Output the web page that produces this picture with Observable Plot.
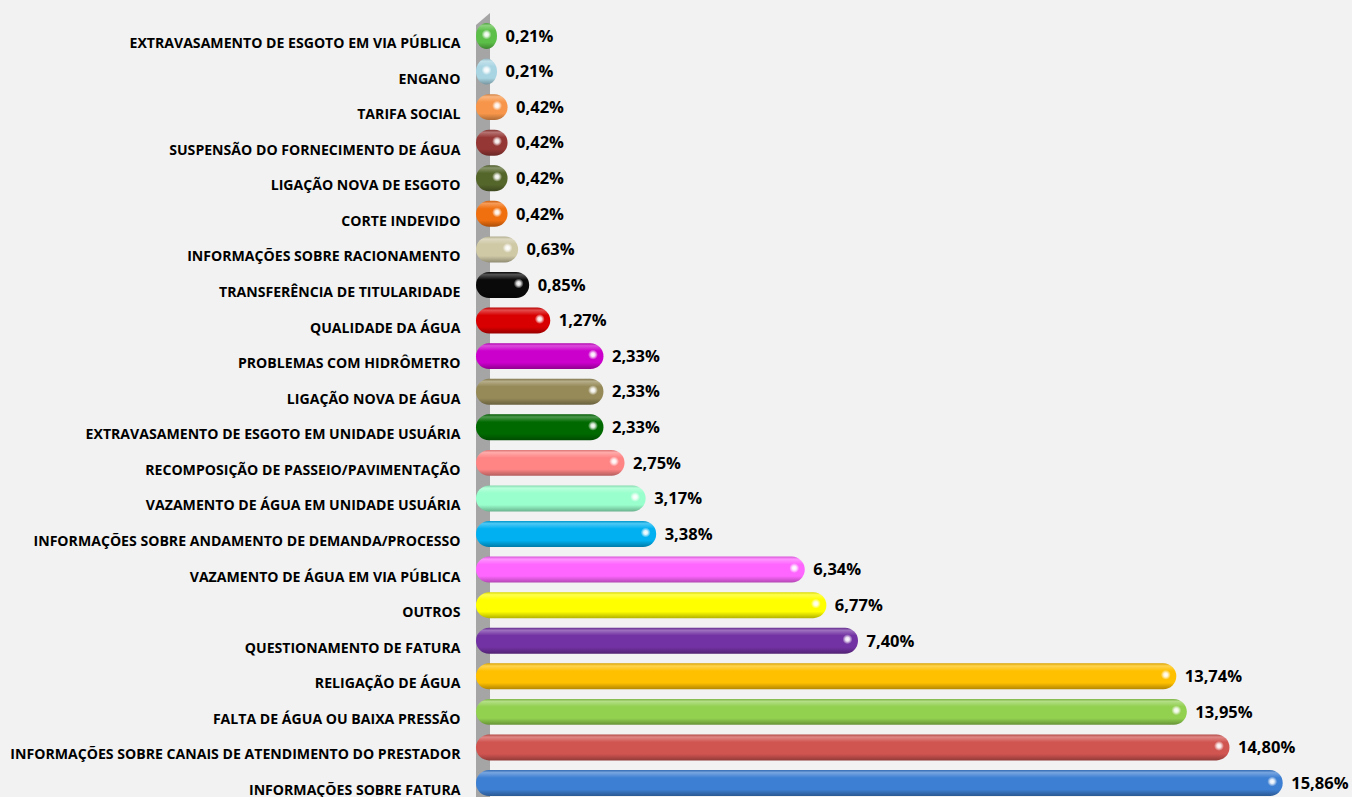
<!DOCTYPE html>
<html>
<head>
<meta charset="utf-8">
<script src="https://cdn.jsdelivr.net/npm/d3@7"></script>
<script src="https://cdn.jsdelivr.net/npm/@observablehq/plot@0.6"></script>
<style>
  html, body { margin: 0; padding: 0; background: #f2f2f2; }
  #chart svg { display: block; }
</style>
</head>
<body>
<div id="chart"></div>
<script>
const categories = [
  "EXTRAVASAMENTO DE ESGOTO EM VIA PÚBLICA",
  "ENGANO",
  "TARIFA SOCIAL",
  "SUSPENSÃO DO FORNECIMENTO DE ÁGUA",
  "LIGAÇÃO NOVA DE ESGOTO",
  "CORTE INDEVIDO",
  "INFORMAÇÕES SOBRE RACIONAMENTO",
  "TRANSFERÊNCIA DE TITULARIDADE",
  "QUALIDADE DA ÁGUA",
  "PROBLEMAS COM HIDRÔMETRO",
  "LIGAÇÃO NOVA DE ÁGUA",
  "EXTRAVASAMENTO DE ESGOTO EM UNIDADE USUÁRIA",
  "RECOMPOSIÇÃO DE PASSEIO/PAVIMENTAÇÃO",
  "VAZAMENTO DE ÁGUA EM UNIDADE USUÁRIA",
  "INFORMAÇÕES SOBRE ANDAMENTO DE DEMANDA/PROCESSO",
  "VAZAMENTO DE ÁGUA EM VIA PÚBLICA",
  "OUTROS",
  "QUESTIONAMENTO DE FATURA",
  "RELIGAÇÃO DE ÁGUA",
  "FALTA DE ÁGUA OU BAIXA PRESSÃO",
  "INFORMAÇÕES SOBRE CANAIS DE ATENDIMENTO DO PRESTADOR",
  "INFORMAÇÕES SOBRE FATURA"
];
const values = [0.21, 0.21, 0.42, 0.42, 0.42, 0.42, 0.63, 0.85, 1.27, 2.33, 2.33, 2.33, 2.75, 3.17, 3.38, 6.34, 6.77, 7.40, 13.74, 13.95, 14.80, 15.86];
const colors = [
  "#5cbf48", "#a9d5e3", "#f7964a", "#953735", "#55662b", "#f07010",
  "#cfc9a6", "#0a0a0a", "#d80000", "#cc00cc", "#968a58", "#006a00",
  "#ff8585", "#99ffcc", "#00b0f0", "#ff66ff", "#ffff00", "#7332a3",
  "#ffc000", "#92d050", "#d05450", "#3d7fd2"
];

const data = categories.map((c, i) => ({ cat: c, value: values[i], idx: i }));
const fmt = v => v.toFixed(2).replace(".", ",") + "%";

const W = 1352, H = 797;
const mLeft = 476, mTop = 23;
const xMin = -0.209, xMax = 17.24;

const chart = Plot.plot({
  width: W,
  height: H,
  marginLeft: mLeft,
  marginRight: 0,
  marginTop: mTop,
  marginBottom: 1,
  style: { background: "#f2f2f2", fontFamily: "'Open Sans', sans-serif", overflow: "visible" },
  x: { domain: [xMin, xMax], axis: null },
  y: { domain: categories, paddingInner: 0.27, paddingOuter: 0, round: false, tickSize: 0, tickPadding: 16, label: null },
  color: { type: "identity" },
  marks: [
    Plot.barX(data, {
      x: "value", y: "cat",
      fill: d => `url(#bar${d.idx})`,
      insetLeft: -10.5,
      rx: 13
    }),
    Plot.dot(data, {
      x: "value", y: "cat", dx: -11, dy: -2, r: 5,
      fill: "url(#hl)", stroke: "none"
    }),
    Plot.text(data, {
      x: "value", y: "cat", text: d => fmt(d.value),
      dx: 8, textAnchor: "start",
      fontSize: 16.5, fontWeight: "bold", fill: "#000"
    })
  ]
});

const svgEl = chart.tagName.toLowerCase() === "svg" ? chart : chart.querySelector("svg");
const s = d3.select(svgEl);
s.selectAll("g[aria-label='y-axis tick label']")
  .attr("transform", function () {
    const t = this.getAttribute("transform") || "";
    return (t + " translate(0,7)").trim();
  })
  .selectAll("text")
  .attr("font-size", 14.1).attr("font-weight", "bold").attr("fill", "#000");

const defs = s.insert("defs", ":first-child");
colors.forEach((c, i) => {
  const base = d3.color(c).formatHex();
  const light = d3.interpolateRgb(c, "#ffffff")(0.3);
  const dark = d3.interpolateRgb(c, "#000000")(0.3);
  const g = defs.append("linearGradient").attr("id", "bar" + i)
    .attr("x1", 0).attr("y1", 0).attr("x2", 0).attr("y2", 1);
  g.append("stop").attr("offset", "0%").attr("stop-color", d3.interpolateRgb(c, "#000000")(0.15));
  g.append("stop").attr("offset", "10%").attr("stop-color", light);
  g.append("stop").attr("offset", "30%").attr("stop-color", base);
  g.append("stop").attr("offset", "75%").attr("stop-color", base);
  g.append("stop").attr("offset", "100%").attr("stop-color", dark);
});
const hl = defs.append("radialGradient").attr("id", "hl");
hl.append("stop").attr("offset", "0%").attr("stop-color", "#ffffff").attr("stop-opacity", 1);
hl.append("stop").attr("offset", "40%").attr("stop-color", "#ffffff").attr("stop-opacity", 0.85);
hl.append("stop").attr("offset", "100%").attr("stop-color", "#ffffff").attr("stop-opacity", 0);

// 3D back wall, placed from the x scale
const xs = chart.scale("x");
const wx0 = xs.apply(xMin), wx1 = wx0 + 14;
const firstG = svgEl.querySelector("g");
const wall = document.createElementNS("http://www.w3.org/2000/svg", "polygon");
wall.setAttribute("points", `${wx0},${H} ${wx0},${mTop + 2} ${wx1},${mTop - 10} ${wx1},${H}`);
wall.setAttribute("fill", "#a5a5a5");
svgEl.insertBefore(wall, firstG);

document.getElementById("chart").appendChild(chart);
</script>
</body>
</html>
